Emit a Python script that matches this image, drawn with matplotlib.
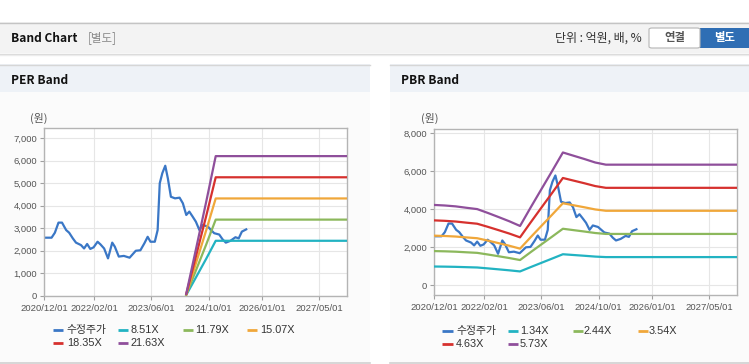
import matplotlib
matplotlib.use("Agg")
import matplotlib.pyplot as plt
import matplotlib.dates as mdates
from matplotlib.lines import Line2D
from matplotlib.patches import Rectangle, FancyBboxPatch
from matplotlib.ticker import FuncFormatter, FixedLocator
import numpy as np

# ---------------- data ----------------
price_dates = ["2020-12-01", "2021-02-01", "2021-03-01", "2021-04-01", "2021-05-01", "2021-06-05",
               "2021-07-01", "2021-08-01", "2021-08-28", "2021-10-10", "2021-11-05", "2021-12-01",
               "2021-12-28", "2022-01-25", "2022-02-28", "2022-03-25", "2022-04-25", "2022-05-28",
               "2022-07-03", "2022-07-25", "2022-08-28", "2022-10-10", "2022-11-28", "2023-01-20",
               "2023-02-28", "2023-04-03", "2023-05-01", "2023-05-25", "2023-07-01", "2023-07-25",
               "2023-08-12", "2023-09-03", "2023-09-28", "2023-10-20", "2023-11-15", "2023-12-20",
               "2024-01-28", "2024-02-25", "2024-03-25", "2024-04-20", "2024-05-18", "2024-06-15",
               "2024-07-15", "2024-08-12", "2024-09-25", "2024-11-18", "2024-12-31", "2025-01-28",
               "2025-02-25", "2025-04-05", "2025-05-18", "2025-06-15", "2025-07-12", "2025-08-18"]
price_values = [2580, 2580, 2800, 3250, 3250, 2920,
                2800, 2550, 2360, 2250, 2100, 2300,
                2080, 2150, 2400, 2280, 2100, 1660,
                2360, 2180, 1740, 1770, 1690, 2000,
                2020, 2330, 2620, 2400, 2400, 2920,
                5000, 5450, 5780, 5220, 4400, 4330,
                4360, 4110, 3590, 3740, 3520, 3290,
                2920, 3150, 3070, 2780, 2720, 2510,
                2360, 2440, 2600, 2550, 2850, 2950]

# PER band: EPS path (won) and multiples
eps_dates = ["2024-03-25", "2024-06-15", "2024-09-10", "2024-12-01", "2027-12-25"]
eps_values = [4, 95, 192, 287, 287]
per_multiples = [8.51, 11.79, 15.07, 18.35, 21.63]
per_labels = ["8.51X", "11.79X", "15.07X", "18.35X", "21.63X"]

# PBR band: BPS path (won) and multiples
bps_dates = ["2020-12-01", "2021-03-01", "2021-06-01", "2021-09-01", "2021-12-01", "2022-03-01",
             "2022-06-01", "2022-09-01", "2022-12-01", "2023-03-01", "2023-06-01", "2023-09-01",
             "2023-12-01", "2024-03-01", "2024-06-01", "2024-09-01", "2024-12-01", "2027-12-25"]
bps_values = [738, 733, 725, 712, 700, 665,
              627, 588, 545, 714, 883, 1051,
              1220, 1190, 1160, 1128, 1108, 1108]
pbr_multiples = [1.34, 2.44, 3.54, 4.63, 5.73]
pbr_labels = ["1.34X", "2.44X", "3.54X", "4.63X", "5.73X"]

xtick_labels = ["2020/12/01", "2022/02/01", "2023/06/01", "2024/10/01", "2026/01/01", "2027/05/01"]
price_label = "수정주가"

# ---------------- style ----------------
W, H = 749, 364
price_color = "#3a77c6"
band_colors = ["#22b3c2", "#8cb85c", "#f0a73a", "#d6312e", "#8f4f9b"]
KFONT = ["Liberation Sans", "Noto Sans CJK KR", "DejaVu Sans"]
BFONT = ["Noto Sans CJK KR", "DejaVu Sans"]
plt.rcParams["font.family"] = KFONT

fig = plt.figure(figsize=(W / 100, H / 100), dpi=100)
fig.patch.set_facecolor("white")


def fx(x):
    return x / W


def fy(y):
    return 1 - y / H


def rect(x0, y0, x1, y1, fc, ec="none", lw=0, z=0):
    fig.add_artist(Rectangle((fx(x0), fy(y1)), fx(x1) - fx(x0), fy(y0) - fy(y1),
                             transform=fig.transFigure, facecolor=fc, edgecolor=ec,
                             linewidth=lw, zorder=z))


def hline(x0, x1, y, color, lw=1.0, z=1):
    fig.add_artist(Line2D([fx(x0), fx(x1)], [fy(y), fy(y)], transform=fig.transFigure,
                          color=color, linewidth=lw, zorder=z))


# header bar
rect(0, 22, W, 53, "#f3f3f3")
hline(0, W, 22.5, "#c4c4c4", 1.0)
hline(0, W, 53.5, "#d9d9d9", 1.0)
hline(0, W, 54.5, "#ececec", 1.0)
fig.text(fx(11), fy(38), "Band Chart", fontsize=8.6, fontweight="bold", family=BFONT,
         color="#111111", va="center", ha="left")
fig.text(fx(88), fy(38), "[별도]", fontsize=8.3, family=BFONT, color="#8a8a8a",
         va="center", ha="left")
fig.text(fx(642), fy(38), "단위 : 억원, 배, %", fontsize=8.6, family=BFONT, color="#333333",
         va="center", ha="right")
fig.add_artist(FancyBboxPatch((fx(649), fy(48)), fx(700) - fx(649), fy(28) - fy(48),
                              boxstyle="round,pad=0,rounding_size=0.004",
                              transform=fig.transFigure, facecolor="white",
                              edgecolor="#b5b5b5", linewidth=0.8))
fig.text(fx(674.5), fy(38), "연결", fontsize=8.2, fontweight="bold", family=BFONT,
         color="#555555", va="center", ha="center")
rect(700, 28, W, 48, "#2f6eb4")
fig.text(fx(724.5), fy(38), "별도", fontsize=8.2, fontweight="bold", family=BFONT,
         color="white", va="center", ha="center")

# panels
for (px0, px1, title) in [(0, 370, "PER Band"), (390, W, "PBR Band")]:
    rect(px0, 92, px1, 363, "#fbfbfb")
    rect(px0, 64, px1, 92, "#eef2f7")
    hline(px0, px1, 64.5, "#d6d6d6", 1.0)
    hline(px0, px1, 363, "#d0d0d0", 1.2)
    fig.text(fx(px0 + 11), fy(80), title, fontsize=8.6, fontweight="bold", family=BFONT,
             color="#111111", va="center", ha="left")

xmin = np.datetime64("2020-12-01")
xmax = np.datetime64("2027-12-25")
xtick_dates = [np.datetime64(s.replace("/", "-")) for s in xtick_labels]

pd_dates = np.array(price_dates, dtype="datetime64[D]")


def setup_axes(ax, ylim, yticks):
    ax.set_facecolor("white")
    ax.set_xlim(xmin, xmax)
    ax.set_ylim(*ylim)
    ax.xaxis.set_major_locator(FixedLocator(mdates.date2num(xtick_dates)))
    ax.set_xticklabels(xtick_labels)
    ax.set_yticks(yticks)
    ax.yaxis.set_major_formatter(FuncFormatter(lambda v, p: f"{int(v):,}"))
    ax.grid(True, color="#e6e6e6", linewidth=0.8)
    ax.set_axisbelow(True)
    for s in ax.spines.values():
        s.set_color("#b4b4b4")
        s.set_linewidth(1.0)
    ax.tick_params(axis="both", colors="#a0a0a0", labelcolor="#555555", labelsize=6.8,
                   length=3.2, width=0.8)
    ax.tick_params(axis="x", pad=2.5)
    ax.tick_params(axis="y", pad=2.0)


def draw_legend(x_handles, x_texts, rows_y, labels, colors):
    for (hx0, hx1), tx, yy, lab, col in zip(x_handles, x_texts, rows_y, labels, colors):
        fig.add_artist(Line2D([fx(hx0), fx(hx1)], [fy(yy), fy(yy)], transform=fig.transFigure,
                              color=col, linewidth=2.0, solid_capstyle="butt"))
        fig.text(fx(tx), fy(yy), lab, fontsize=7.8, color="#333333", va="center", ha="left",
                 family=KFONT)


# ---------- PER chart ----------
ax1 = fig.add_axes([44.3 / W, 1 - 295.7 / H, (347 - 44.3) / W, (295.7 - 128.3) / H])
setup_axes(ax1, (0, 7445), list(range(0, 7001, 1000)))
ax1.plot(pd_dates, price_values, color=price_color, linewidth=1.6, zorder=2)
e_dates = np.array(eps_dates, dtype="datetime64[D]")
for m, c in zip(per_multiples, band_colors):
    ax1.plot(e_dates, [v * m for v in eps_values], color=c, linewidth=1.6, zorder=3)
fig.text(fx(39), fy(118), "(원)", fontsize=7.8, color="#555555", ha="center", va="center",
         family=BFONT)

# ---------- PBR chart ----------
ax2 = fig.add_axes([434.3 / W, 1 - 295 / H, (737.3 - 434.3) / W, (295 - 129) / H])
setup_axes(ax2, (-510, 8226), list(range(0, 8001, 2000)))
ax2.plot(pd_dates, price_values, color=price_color, linewidth=1.6, zorder=2)
b_dates = np.array(bps_dates, dtype="datetime64[D]")
for m, c in zip(pbr_multiples, band_colors):
    ax2.plot(b_dates, [v * m for v in bps_values], color=c, linewidth=1.6, zorder=3)
fig.text(fx(430), fy(118), "(원)", fontsize=7.8, color="#555555", ha="center", va="center",
         family=BFONT)

# legends
left_h = [(52.7, 63.3), (118.3, 128.3), (182.7, 192.7), (247.3, 257.3), (52.7, 63.3), (118.3, 128.3)]
left_t = [66.7, 130.7, 195, 260, 66.7, 130.7]
left_y = [330, 330, 330, 330, 343.3, 343.3]
draw_legend(left_h, left_t, left_y, [price_label] + per_labels, [price_color] + band_colors)

right_h = [(442.3, 452.7), (507.7, 517.7), (572.7, 582.7), (637.7, 647.7), (442.3, 452.7), (507.7, 517.7)]
right_t = [456, 520, 584, 648.3, 456, 520]
right_y = [330.7, 330.7, 330.7, 330.7, 344, 344]
draw_legend(right_h, right_t, right_y, [price_label] + pbr_labels, [price_color] + band_colors)

fig.savefig("out.png", dpi=100, facecolor="white")
